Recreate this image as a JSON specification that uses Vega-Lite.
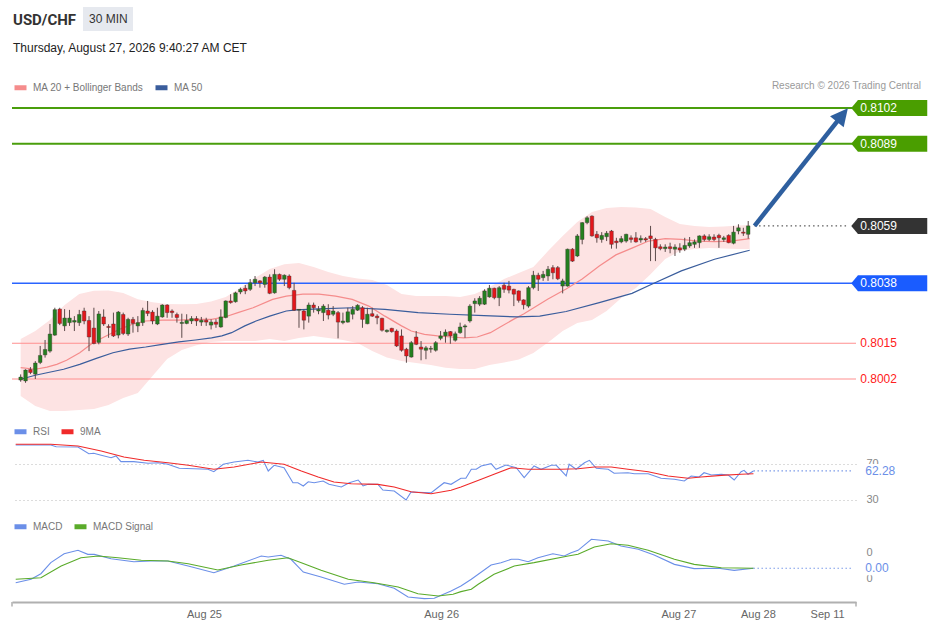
{
"$schema":"https://vega.github.io/schema/vega-lite/v6.json",
"background":"#ffffff",
"padding":{"left":11,"top":7,"right":5,"bottom":5},
"title":{"text":"USD/CHF","subtitle":"Thursday, August 27, 2026 9:40:27 AM CET","anchor":"start","frame":"group","dx":1,"offset":-47,"font":"Roboto","fontSize":15,"fontWeight":"bold","color":"#333333","subtitleFont":"Liberation Sans","subtitleFontSize":12,"subtitleColor":"#222222","subtitlePadding":15},
"config":{"view":{"stroke":null},"font":"Liberation Sans","legend":{"orient":"none","direction":"horizontal","title":null,"labelFontSize":10,"labelColor":"#777777","symbolType":"stroke","symbolStrokeWidth":5,"symbolSize":144,"labelOffset":4,"columnPadding":1,"padding":0}},
"bounds":"flush",
"spacing":29,
"resolve":{"scale":{"color":"independent"},"legend":{"color":"independent"}},
"datasets":{
"candles":[
{"i":0,"o":0.80016,"h":0.80037,"l":0.8001,"c":0.80027},
{"i":1,"o":0.80013,"h":0.80056,"l":0.80006,"c":0.80053},
{"i":2,"o":0.80055,"h":0.80064,"l":0.80038,"c":0.80044},
{"i":3,"o":0.80038,"h":0.80086,"l":0.8002,"c":0.80079},
{"i":4,"o":0.80081,"h":0.80142,"l":0.80075,"c":0.80107},
{"i":5,"o":0.80109,"h":0.80164,"l":0.80099,"c":0.80129},
{"i":6,"o":0.80123,"h":0.80223,"l":0.80117,"c":0.80186},
{"i":7,"o":0.80182,"h":0.80283,"l":0.80179,"c":0.80276},
{"i":8,"o":0.80278,"h":0.80283,"l":0.80219,"c":0.80225},
{"i":9,"o":0.80216,"h":0.80278,"l":0.80197,"c":0.80245},
{"i":10,"o":0.80228,"h":0.80275,"l":0.80216,"c":0.80245},
{"i":11,"o":0.8023,"h":0.80252,"l":0.80197,"c":0.80236},
{"i":12,"o":0.80228,"h":0.80275,"l":0.80216,"c":0.80258},
{"i":13,"o":0.80271,"h":0.80283,"l":0.80222,"c":0.80234},
{"i":14,"o":0.80236,"h":0.80252,"l":0.80123,"c":0.80175},
{"i":15,"o":0.80208,"h":0.80283,"l":0.80148,"c":0.80151},
{"i":16,"o":0.80155,"h":0.80271,"l":0.80148,"c":0.8026},
{"i":17,"o":0.80249,"h":0.80277,"l":0.80216,"c":0.80223},
{"i":18,"o":0.80214,"h":0.80222,"l":0.80172,"c":0.8021},
{"i":19,"o":0.80223,"h":0.80265,"l":0.80175,"c":0.80179},
{"i":20,"o":0.80182,"h":0.80271,"l":0.8017,"c":0.80267},
{"i":21,"o":0.80258,"h":0.80265,"l":0.80182,"c":0.80188},
{"i":22,"o":0.80186,"h":0.80246,"l":0.80179,"c":0.8024},
{"i":23,"o":0.8024,"h":0.80249,"l":0.80191,"c":0.80225},
{"i":24,"o":0.80216,"h":0.80252,"l":0.80193,"c":0.80228},
{"i":25,"o":0.80228,"h":0.80283,"l":0.80216,"c":0.80273},
{"i":26,"o":0.80271,"h":0.80308,"l":0.80252,"c":0.80262},
{"i":27,"o":0.80267,"h":0.80274,"l":0.80222,"c":0.80234},
{"i":28,"o":0.80223,"h":0.80283,"l":0.80219,"c":0.80252},
{"i":29,"o":0.80249,"h":0.80296,"l":0.80246,"c":0.80293},
{"i":30,"o":0.80293,"h":0.80296,"l":0.80246,"c":0.80265},
{"i":31,"o":0.80271,"h":0.80277,"l":0.80246,"c":0.80265},
{"i":32,"o":0.80258,"h":0.80265,"l":0.80228,"c":0.80247},
{"i":33,"o":0.80225,"h":0.80261,"l":0.80172,"c":0.80229},
{"i":34,"o":0.80225,"h":0.80259,"l":0.80222,"c":0.80236},
{"i":35,"o":0.80234,"h":0.80252,"l":0.80223,"c":0.80243},
{"i":36,"o":0.80243,"h":0.80252,"l":0.80216,"c":0.80234},
{"i":37,"o":0.8023,"h":0.80249,"l":0.80216,"c":0.80237},
{"i":38,"o":0.80237,"h":0.80246,"l":0.80216,"c":0.8023},
{"i":39,"o":0.80219,"h":0.8024,"l":0.80203,"c":0.8023},
{"i":40,"o":0.8023,"h":0.80241,"l":0.80209,"c":0.80222},
{"i":41,"o":0.80212,"h":0.80277,"l":0.80209,"c":0.80249},
{"i":42,"o":0.80247,"h":0.8031,"l":0.80244,"c":0.80308},
{"i":43,"o":0.80308,"h":0.80333,"l":0.80298,"c":0.80302},
{"i":44,"o":0.80305,"h":0.80342,"l":0.80302,"c":0.80338},
{"i":45,"o":0.80341,"h":0.80357,"l":0.80333,"c":0.80351},
{"i":46,"o":0.80355,"h":0.80367,"l":0.80333,"c":0.80345},
{"i":47,"o":0.80351,"h":0.80389,"l":0.80345,"c":0.80375},
{"i":48,"o":0.80375,"h":0.804,"l":0.80363,"c":0.80388},
{"i":49,"o":0.80382,"h":0.80385,"l":0.80357,"c":0.80375},
{"i":50,"o":0.80369,"h":0.804,"l":0.80357,"c":0.80396},
{"i":51,"o":0.80396,"h":0.80406,"l":0.80333,"c":0.80336},
{"i":52,"o":0.80338,"h":0.80425,"l":0.80335,"c":0.80406},
{"i":53,"o":0.80406,"h":0.80409,"l":0.80382,"c":0.80388},
{"i":54,"o":0.80388,"h":0.80406,"l":0.80363,"c":0.80403},
{"i":55,"o":0.804,"h":0.80406,"l":0.80351,"c":0.80357},
{"i":56,"o":0.80347,"h":0.80375,"l":0.80271,"c":0.80274},
{"i":57,"o":0.80274,"h":0.80278,"l":0.80209,"c":0.80277},
{"i":58,"o":0.80271,"h":0.80277,"l":0.80203,"c":0.80237},
{"i":59,"o":0.80252,"h":0.80302,"l":0.80228,"c":0.80293},
{"i":60,"o":0.80293,"h":0.80302,"l":0.80265,"c":0.80283},
{"i":61,"o":0.80271,"h":0.80289,"l":0.80259,"c":0.80277},
{"i":62,"o":0.80265,"h":0.80296,"l":0.80234,"c":0.80289},
{"i":63,"o":0.80274,"h":0.80296,"l":0.8024,"c":0.80256},
{"i":64,"o":0.80259,"h":0.80289,"l":0.80252,"c":0.80271},
{"i":65,"o":0.80265,"h":0.80271,"l":0.8017,"c":0.8023},
{"i":66,"o":0.80228,"h":0.80265,"l":0.80222,"c":0.80234},
{"i":67,"o":0.8023,"h":0.80283,"l":0.80228,"c":0.80268},
{"i":68,"o":0.80259,"h":0.80289,"l":0.8024,"c":0.80277},
{"i":69,"o":0.80274,"h":0.80296,"l":0.80271,"c":0.80292},
{"i":70,"o":0.80283,"h":0.80289,"l":0.80209,"c":0.8024},
{"i":71,"o":0.80224,"h":0.80283,"l":0.80222,"c":0.80259},
{"i":72,"o":0.80261,"h":0.80283,"l":0.80249,"c":0.80252},
{"i":73,"o":0.80252,"h":0.80259,"l":0.80222,"c":0.80246},
{"i":74,"o":0.80244,"h":0.80246,"l":0.80195,"c":0.802},
{"i":75,"o":0.80195,"h":0.80203,"l":0.80191,"c":0.802},
{"i":76,"o":0.80207,"h":0.80209,"l":0.80191,"c":0.80195},
{"i":77,"o":0.80197,"h":0.80203,"l":0.80138,"c":0.80142},
{"i":78,"o":0.80179,"h":0.80203,"l":0.80121,"c":0.80126},
{"i":79,"o":0.8013,"h":0.80135,"l":0.8008,"c":0.80105},
{"i":80,"o":0.80101,"h":0.8016,"l":0.80099,"c":0.80154},
{"i":81,"o":0.80175,"h":0.80197,"l":0.80145,"c":0.80148},
{"i":82,"o":0.80138,"h":0.8016,"l":0.80089,"c":0.8013},
{"i":83,"o":0.80126,"h":0.80142,"l":0.80093,"c":0.80135},
{"i":84,"o":0.8013,"h":0.80142,"l":0.80117,"c":0.80133},
{"i":85,"o":0.80126,"h":0.8016,"l":0.80121,"c":0.80154},
{"i":86,"o":0.8017,"h":0.80197,"l":0.80163,"c":0.80179},
{"i":87,"o":0.80179,"h":0.80203,"l":0.80154,"c":0.80193},
{"i":88,"o":0.80195,"h":0.80197,"l":0.8015,"c":0.80179},
{"i":89,"o":0.80163,"h":0.80195,"l":0.80158,"c":0.80187},
{"i":90,"o":0.80191,"h":0.80228,"l":0.80187,"c":0.80212},
{"i":91,"o":0.80212,"h":0.80222,"l":0.80172,"c":0.80216},
{"i":92,"o":0.80234,"h":0.80296,"l":0.80228,"c":0.80289},
{"i":93,"o":0.80298,"h":0.80318,"l":0.80265,"c":0.80308},
{"i":94,"o":0.80296,"h":0.80326,"l":0.80289,"c":0.80318},
{"i":95,"o":0.80296,"h":0.80351,"l":0.80293,"c":0.80345},
{"i":96,"o":0.80323,"h":0.80367,"l":0.8032,"c":0.80355},
{"i":97,"o":0.80355,"h":0.80357,"l":0.80314,"c":0.8032},
{"i":98,"o":0.8032,"h":0.80363,"l":0.80289,"c":0.80357},
{"i":99,"o":0.80366,"h":0.80375,"l":0.80338,"c":0.80351},
{"i":100,"o":0.80363,"h":0.80382,"l":0.80336,"c":0.80348},
{"i":101,"o":0.80351,"h":0.80353,"l":0.80289,"c":0.80333},
{"i":102,"o":0.80345,"h":0.80347,"l":0.80302,"c":0.8031},
{"i":103,"o":0.80312,"h":0.80314,"l":0.80277,"c":0.80294},
{"i":104,"o":0.80289,"h":0.80363,"l":0.80283,"c":0.80357},
{"i":105,"o":0.80357,"h":0.80419,"l":0.80351,"c":0.80403},
{"i":106,"o":0.80403,"h":0.80412,"l":0.80345,"c":0.80388},
{"i":107,"o":0.80394,"h":0.80419,"l":0.80382,"c":0.80406},
{"i":108,"o":0.804,"h":0.80437,"l":0.80382,"c":0.80425},
{"i":109,"o":0.80431,"h":0.8044,"l":0.80388,"c":0.80412},
{"i":110,"o":0.80431,"h":0.80437,"l":0.80385,"c":0.8039},
{"i":111,"o":0.80363,"h":0.8039,"l":0.80336,"c":0.80382},
{"i":112,"o":0.80363,"h":0.80501,"l":0.80361,"c":0.80499},
{"i":113,"o":0.80499,"h":0.80503,"l":0.80452,"c":0.80455},
{"i":114,"o":0.80474,"h":0.80555,"l":0.8047,"c":0.80548},
{"i":115,"o":0.80535,"h":0.80599,"l":0.80517,"c":0.80597},
{"i":116,"o":0.80597,"h":0.80621,"l":0.80591,"c":0.80615},
{"i":117,"o":0.80621,"h":0.80624,"l":0.80545,"c":0.80548},
{"i":118,"o":0.80554,"h":0.80566,"l":0.80523,"c":0.80541},
{"i":119,"o":0.80535,"h":0.80562,"l":0.80523,"c":0.8055},
{"i":120,"o":0.80545,"h":0.80566,"l":0.80529,"c":0.80558},
{"i":121,"o":0.80566,"h":0.8057,"l":0.80501,"c":0.80517},
{"i":122,"o":0.80529,"h":0.80541,"l":0.80501,"c":0.80523},
{"i":123,"o":0.80526,"h":0.80548,"l":0.80521,"c":0.80538},
{"i":124,"o":0.80529,"h":0.80556,"l":0.80523,"c":0.80554},
{"i":125,"o":0.80541,"h":0.8055,"l":0.80523,"c":0.80535},
{"i":126,"o":0.80541,"h":0.80562,"l":0.80523,"c":0.80526},
{"i":127,"o":0.80533,"h":0.8055,"l":0.80523,"c":0.80539},
{"i":128,"o":0.80538,"h":0.80544,"l":0.80526,"c":0.80533},
{"i":129,"o":0.80548,"h":0.80585,"l":0.80455,"c":0.80538},
{"i":130,"o":0.80535,"h":0.80541,"l":0.80455,"c":0.80504},
{"i":131,"o":0.80508,"h":0.80517,"l":0.80495,"c":0.80501},
{"i":132,"o":0.80501,"h":0.80517,"l":0.80489,"c":0.80507},
{"i":133,"o":0.80508,"h":0.80523,"l":0.80484,"c":0.80501},
{"i":134,"o":0.80499,"h":0.80517,"l":0.80474,"c":0.80507},
{"i":135,"o":0.80504,"h":0.80521,"l":0.80486,"c":0.80496},
{"i":136,"o":0.80499,"h":0.80541,"l":0.80492,"c":0.80513},
{"i":137,"o":0.80511,"h":0.80544,"l":0.80504,"c":0.80523},
{"i":138,"o":0.80517,"h":0.80535,"l":0.80504,"c":0.80526},
{"i":139,"o":0.80523,"h":0.8055,"l":0.80504,"c":0.80548},
{"i":140,"o":0.80548,"h":0.80554,"l":0.80528,"c":0.80535},
{"i":141,"o":0.80535,"h":0.80554,"l":0.80529,"c":0.80545},
{"i":142,"o":0.80544,"h":0.80554,"l":0.80529,"c":0.80535},
{"i":143,"o":0.8055,"h":0.80556,"l":0.80504,"c":0.80541},
{"i":144,"o":0.80535,"h":0.80548,"l":0.80526,"c":0.80541},
{"i":145,"o":0.8055,"h":0.80554,"l":0.80521,"c":0.80523},
{"i":146,"o":0.80521,"h":0.80585,"l":0.80517,"c":0.80562},
{"i":147,"o":0.80566,"h":0.80591,"l":0.80554,"c":0.80578},
{"i":148,"o":0.80562,"h":0.80578,"l":0.80548,"c":0.80558},
{"i":149,"o":0.80554,"h":0.80603,"l":0.80538,"c":0.80585}
],
"band":[
{"i":0,"up":0.80168,"lo":0.79957},{"i":3,"up":0.80197,"lo":0.7992},{"i":6,"up":0.80238,"lo":0.79902},{"i":9,"up":0.80293,"lo":0.79902},
{"i":12,"up":0.80334,"lo":0.79906},{"i":15,"up":0.80346,"lo":0.79909},{"i":18,"up":0.80347,"lo":0.79924},{"i":21,"up":0.80337,"lo":0.7995},
{"i":24,"up":0.80314,"lo":0.79968},{"i":27,"up":0.80303,"lo":0.80031},{"i":30,"up":0.80297,"lo":0.80094},{"i":33,"up":0.80296,"lo":0.80127},
{"i":36,"up":0.80297,"lo":0.80145},{"i":39,"up":0.80306,"lo":0.80157},{"i":42,"up":0.80323,"lo":0.8016},{"i":45,"up":0.80356,"lo":0.8016},
{"i":48,"up":0.80393,"lo":0.8016},{"i":51,"up":0.80426,"lo":0.80168},{"i":54,"up":0.80443,"lo":0.8016},{"i":57,"up":0.80448,"lo":0.80171},
{"i":60,"up":0.80433,"lo":0.80179},{"i":63,"up":0.80415,"lo":0.80171},{"i":66,"up":0.804,"lo":0.80164},{"i":69,"up":0.80391,"lo":0.80153},
{"i":72,"up":0.80385,"lo":0.80123},{"i":75,"up":0.80367,"lo":0.80099},{"i":78,"up":0.80334,"lo":0.80086},{"i":81,"up":0.80326,"lo":0.80079},
{"i":84,"up":0.80326,"lo":0.80072},{"i":87,"up":0.80326,"lo":0.80062},{"i":90,"up":0.80323,"lo":0.80057},{"i":93,"up":0.80334,"lo":0.80057},
{"i":96,"up":0.80359,"lo":0.80072},{"i":99,"up":0.80389,"lo":0.80081},{"i":102,"up":0.80411,"lo":0.80092},{"i":105,"up":0.80433,"lo":0.80116},
{"i":108,"up":0.80492,"lo":0.80155},{"i":111,"up":0.80548,"lo":0.80197},{"i":114,"up":0.80599,"lo":0.80227},{"i":117,"up":0.80636,"lo":0.80238},
{"i":120,"up":0.80651,"lo":0.80271},{"i":123,"up":0.80655,"lo":0.80319},{"i":126,"up":0.80653,"lo":0.80356},{"i":129,"up":0.80647,"lo":0.80407},
{"i":132,"up":0.80618,"lo":0.80463},{"i":135,"up":0.80592,"lo":0.80492},{"i":138,"up":0.80585,"lo":0.805},{"i":141,"up":0.80581,"lo":0.80503},
{"i":144,"up":0.80583,"lo":0.80502},{"i":147,"up":0.80586,"lo":0.805},{"i":149.3,"up":0.80588,"lo":0.805}
],
"ma":[
{"s":"MA 20 + Bollinger Bands","i":0,"v":0.80062},{"s":"MA 20 + Bollinger Bands","i":3,"v":0.80056},{"s":"MA 20 + Bollinger Bands","i":5.4,"v":0.80064},{"s":"MA 20 + Bollinger Bands","i":7.4,"v":0.80074},
{"s":"MA 20 + Bollinger Bands","i":9.4,"v":0.80089},{"s":"MA 20 + Bollinger Bands","i":12.1,"v":0.80117},{"s":"MA 20 + Bollinger Bands","i":14.8,"v":0.80154},{"s":"MA 20 + Bollinger Bands","i":17.5,"v":0.80179},
{"s":"MA 20 + Bollinger Bands","i":20.2,"v":0.80203},{"s":"MA 20 + Bollinger Bands","i":22.9,"v":0.80222},{"s":"MA 20 + Bollinger Bands","i":25.6,"v":0.80234},{"s":"MA 20 + Bollinger Bands","i":29,"v":0.80237},
{"s":"MA 20 + Bollinger Bands","i":32.4,"v":0.80237},{"s":"MA 20 + Bollinger Bands","i":35.8,"v":0.8024},{"s":"MA 20 + Bollinger Bands","i":39.1,"v":0.8024},{"s":"MA 20 + Bollinger Bands","i":41.8,"v":0.80249},
{"s":"MA 20 + Bollinger Bands","i":44.5,"v":0.80265},{"s":"MA 20 + Bollinger Bands","i":47.6,"v":0.80283},{"s":"MA 20 + Bollinger Bands","i":51.6,"v":0.80314},{"s":"MA 20 + Bollinger Bands","i":54.4,"v":0.80326},
{"s":"MA 20 + Bollinger Bands","i":57.8,"v":0.80333},{"s":"MA 20 + Bollinger Bands","i":61.1,"v":0.80333},{"s":"MA 20 + Bollinger Bands","i":64.5,"v":0.80326},{"s":"MA 20 + Bollinger Bands","i":67.9,"v":0.80314},
{"s":"MA 20 + Bollinger Bands","i":71.3,"v":0.80289},{"s":"MA 20 + Bollinger Bands","i":74.6,"v":0.80252},{"s":"MA 20 + Bollinger Bands","i":78,"v":0.80216},{"s":"MA 20 + Bollinger Bands","i":80,"v":0.80197},
{"s":"MA 20 + Bollinger Bands","i":82.7,"v":0.80185},{"s":"MA 20 + Bollinger Bands","i":85.4,"v":0.80179},{"s":"MA 20 + Bollinger Bands","i":88.1,"v":0.80175},{"s":"MA 20 + Bollinger Bands","i":90.8,"v":0.80172},
{"s":"MA 20 + Bollinger Bands","i":93.5,"v":0.80175},{"s":"MA 20 + Bollinger Bands","i":96.2,"v":0.80191},{"s":"MA 20 + Bollinger Bands","i":98.2,"v":0.80212},{"s":"MA 20 + Bollinger Bands","i":101,"v":0.80241},
{"s":"MA 20 + Bollinger Bands","i":103,"v":0.8026},{"s":"MA 20 + Bollinger Bands","i":105,"v":0.80282},{"s":"MA 20 + Bollinger Bands","i":108,"v":0.80315},{"s":"MA 20 + Bollinger Bands","i":111.7,"v":0.80352},
{"s":"MA 20 + Bollinger Bands","i":115,"v":0.80389},{"s":"MA 20 + Bollinger Bands","i":118.5,"v":0.80437},{"s":"MA 20 + Bollinger Bands","i":121.9,"v":0.80478},{"s":"MA 20 + Bollinger Bands","i":125.2,"v":0.80503},
{"s":"MA 20 + Bollinger Bands","i":128.6,"v":0.80529},{"s":"MA 20 + Bollinger Bands","i":132,"v":0.80538},{"s":"MA 20 + Bollinger Bands","i":135.3,"v":0.80535},{"s":"MA 20 + Bollinger Bands","i":138.7,"v":0.80529},
{"s":"MA 20 + Bollinger Bands","i":142.1,"v":0.80527},{"s":"MA 20 + Bollinger Bands","i":145.5,"v":0.80529},{"s":"MA 20 + Bollinger Bands","i":149.3,"v":0.80538},
{"s":"MA 50","i":0,"v":0.80019},{"s":"MA 50","i":3,"v":0.80034},{"s":"MA 50","i":5.4,"v":0.80043},{"s":"MA 50","i":8.8,"v":0.80056},
{"s":"MA 50","i":12.1,"v":0.80074},{"s":"MA 50","i":15.5,"v":0.80096},{"s":"MA 50","i":18.9,"v":0.80117},{"s":"MA 50","i":22.3,"v":0.8013},
{"s":"MA 50","i":25.6,"v":0.80138},{"s":"MA 50","i":29,"v":0.80148},{"s":"MA 50","i":32.4,"v":0.80157},{"s":"MA 50","i":35.8,"v":0.80164},
{"s":"MA 50","i":39.1,"v":0.80172},{"s":"MA 50","i":41.2,"v":0.80179},{"s":"MA 50","i":43.2,"v":0.80191},{"s":"MA 50","i":45.9,"v":0.80216},
{"s":"MA 50","i":48.2,"v":0.80234},{"s":"MA 50","i":51,"v":0.80252},{"s":"MA 50","i":54.4,"v":0.80271},{"s":"MA 50","i":56.4,"v":0.80275},
{"s":"MA 50","i":61.1,"v":0.80279},{"s":"MA 50","i":67.9,"v":0.80283},{"s":"MA 50","i":74.6,"v":0.80277},{"s":"MA 50","i":81.4,"v":0.80265},
{"s":"MA 50","i":87.9,"v":0.80259},{"s":"MA 50","i":94.9,"v":0.80254},{"s":"MA 50","i":101.7,"v":0.80249},{"s":"MA 50","i":106.3,"v":0.80252},
{"s":"MA 50","i":111.7,"v":0.80269},{"s":"MA 50","i":118.5,"v":0.80302},{"s":"MA 50","i":125.2,"v":0.80336},{"s":"MA 50","i":128.9,"v":0.80367},
{"s":"MA 50","i":135.3,"v":0.80419},{"s":"MA 50","i":142.1,"v":0.80462},{"s":"MA 50","i":149.3,"v":0.80495}
],
"levels":[
{"price":0.8102,"label":"0.8102","kind":"target"},
{"price":0.80888,"label":"0.8089","kind":"target"},
{"price":0.80585,"label":"0.8059","kind":"last"},
{"price":0.80373,"label":"0.8038","kind":"pivot"},
{"price":0.80152,"label":"0.8015","kind":"support"},
{"price":0.8002,"label":"0.8002","kind":"support"}
],
"arrow":[{"i0":150.3,"p0":0.80585,"i1":168,"p1":0.80988}],
"rsi":[
{"s":"RSI","i":0,"v":91.1},{"s":"RSI","i":7.1,"v":91.1},{"s":"RSI","i":8.2,"v":89.2},{"s":"RSI","i":12.6,"v":88.9},{"s":"RSI","i":14.8,"v":81.4},{"s":"RSI","i":15.8,"v":81.9},
{"s":"RSI","i":17.3,"v":79.7},{"s":"RSI","i":19.3,"v":77},{"s":"RSI","i":20.3,"v":78.9},{"s":"RSI","i":21.3,"v":72.6},{"s":"RSI","i":23.9,"v":72.6},{"s":"RSI","i":26.8,"v":70.8},
{"s":"RSI","i":28.8,"v":71.4},{"s":"RSI","i":30.8,"v":69.7},{"s":"RSI","i":33.1,"v":65.2},{"s":"RSI","i":36.1,"v":64.8},{"s":"RSI","i":38.9,"v":64.1},{"s":"RSI","i":40.1,"v":61.4},
{"s":"RSI","i":42,"v":69.7},{"s":"RSI","i":44.2,"v":72.2},{"s":"RSI","i":47,"v":74.1},{"s":"RSI","i":49,"v":72.2},{"s":"RSI","i":50.1,"v":74.1},{"s":"RSI","i":51.1,"v":62.2},
{"s":"RSI","i":52.3,"v":68.6},{"s":"RSI","i":54.3,"v":65.9},{"s":"RSI","i":56.1,"v":49.2},{"s":"RSI","i":57.1,"v":49.2},{"s":"RSI","i":58.2,"v":45.6},{"s":"RSI","i":59.2,"v":50.3},
{"s":"RSI","i":60.4,"v":49.2},{"s":"RSI","i":62.2,"v":51.1},{"s":"RSI","i":63.4,"v":47.4},{"s":"RSI","i":65.9,"v":44.4},{"s":"RSI","i":67.5,"v":49.2},{"s":"RSI","i":69.3,"v":52.2},
{"s":"RSI","i":70.3,"v":45.6},{"s":"RSI","i":71.3,"v":47.4},{"s":"RSI","i":73.3,"v":47.4},{"s":"RSI","i":74.3,"v":41.1},{"s":"RSI","i":76.6,"v":40},{"s":"RSI","i":79,"v":30},
{"s":"RSI","i":80,"v":38.9},{"s":"RSI","i":84.1,"v":38.1},{"s":"RSI","i":86.7,"v":49.2},{"s":"RSI","i":88.1,"v":47.4},{"s":"RSI","i":90.1,"v":54.1},{"s":"RSI","i":91.1,"v":54.1},
{"s":"RSI","i":92.2,"v":64.1},{"s":"RSI","i":93.2,"v":64.1},{"s":"RSI","i":94.2,"v":67.8},{"s":"RSI","i":96.2,"v":70.3},{"s":"RSI","i":97.2,"v":64.1},{"s":"RSI","i":99.2,"v":68.9},
{"s":"RSI","i":101.3,"v":65.9},{"s":"RSI","i":102.9,"v":54.8},{"s":"RSI","i":104.9,"v":67.8},{"s":"RSI","i":106.3,"v":64.1},{"s":"RSI","i":108.4,"v":68.6},{"s":"RSI","i":109.4,"v":68.6},
{"s":"RSI","i":111.4,"v":56.7},{"s":"RSI","i":112,"v":69.7},{"s":"RSI","i":113.4,"v":64.1},{"s":"RSI","i":115.1,"v":71.4},{"s":"RSI","i":116.1,"v":74.1},{"s":"RSI","i":117.5,"v":65.2},
{"s":"RSI","i":119.9,"v":64.1},{"s":"RSI","i":121.1,"v":59.7},{"s":"RSI","i":123.9,"v":60.3},{"s":"RSI","i":125.2,"v":59.2},{"s":"RSI","i":128,"v":59.2},{"s":"RSI","i":130.6,"v":54.1},
{"s":"RSI","i":133.3,"v":53},{"s":"RSI","i":135.3,"v":51.1},{"s":"RSI","i":136.7,"v":56.7},{"s":"RSI","i":138.3,"v":55.6},{"s":"RSI","i":139.3,"v":60.3},{"s":"RSI","i":140.8,"v":57.8},
{"s":"RSI","i":142.8,"v":58.6},{"s":"RSI","i":144.2,"v":57.8},{"s":"RSI","i":145.4,"v":52.2},{"s":"RSI","i":146.8,"v":61.4},{"s":"RSI","i":147.4,"v":63},{"s":"RSI","i":148.2,"v":58.6},
{"s":"RSI","i":149.3,"v":62.28},
{"s":"9MA","i":0,"v":91.9},{"s":"9MA","i":7.1,"v":91.9},{"s":"9MA","i":12.6,"v":90},{"s":"9MA","i":17.3,"v":84.4},{"s":"9MA","i":21.9,"v":77.8},{"s":"9MA","i":26,"v":74.1},
{"s":"9MA","i":30.8,"v":71.4},{"s":"9MA","i":34.9,"v":68.6},{"s":"9MA","i":40.1,"v":64.1},{"s":"9MA","i":44.2,"v":66.7},{"s":"9MA","i":49.7,"v":72.2},{"s":"9MA","i":54.3,"v":69.7},
{"s":"9MA","i":57.8,"v":62.2},{"s":"9MA","i":61.2,"v":55.6},{"s":"9MA","i":64.4,"v":50},{"s":"9MA","i":67.9,"v":48.1},{"s":"9MA","i":73.3,"v":47.4},{"s":"9MA","i":76.6,"v":44.4},
{"s":"9MA","i":80,"v":39.2},{"s":"9MA","i":84.1,"v":37},{"s":"9MA","i":88.1,"v":40.8},{"s":"9MA","i":90.1,"v":44.4},{"s":"9MA","i":94.2,"v":53},{"s":"9MA","i":96.8,"v":58.6},
{"s":"9MA","i":100.3,"v":65.9},{"s":"9MA","i":103.7,"v":64.1},{"s":"9MA","i":110.4,"v":64.1},{"s":"9MA","i":113.8,"v":64.8},{"s":"9MA","i":117.1,"v":66.7},{"s":"9MA","i":120.5,"v":66.7},
{"s":"9MA","i":123.9,"v":64.1},{"s":"9MA","i":128,"v":61.4},{"s":"9MA","i":132,"v":56.7},{"s":"9MA","i":136.1,"v":54.1},{"s":"9MA","i":138.7,"v":55.6},{"s":"9MA","i":142.8,"v":57.4},
{"s":"9MA","i":146.8,"v":58.6},{"s":"9MA","i":149.3,"v":59.2}
],
"macd":[
{"s":"MACD","i":0,"v":-1.36},{"s":"MACD","i":3.1,"v":-1.1},{"s":"MACD","i":5.1,"v":-0.67},{"s":"MACD","i":7.1,"v":0.18},{"s":"MACD","i":9.8,"v":0.87},{"s":"MACD","i":12.6,"v":1.13},
{"s":"MACD","i":14.6,"v":0.82},{"s":"MACD","i":15.9,"v":0.82},{"s":"MACD","i":19.3,"v":0.48},{"s":"MACD","i":23.9,"v":0.25},{"s":"MACD","i":27.4,"v":0.31},{"s":"MACD","i":30.8,"v":0.31},
{"s":"MACD","i":34.9,"v":-0.08},{"s":"MACD","i":40.1,"v":-0.59},{"s":"MACD","i":44.2,"v":-0.08},{"s":"MACD","i":49.7,"v":0.69},{"s":"MACD","i":51.1,"v":0.62},{"s":"MACD","i":53.7,"v":0.75},
{"s":"MACD","i":55.7,"v":0.44},{"s":"MACD","i":58.2,"v":-0.54},{"s":"MACD","i":61.8,"v":-0.92},{"s":"MACD","i":66.5,"v":-1.48},{"s":"MACD","i":69.3,"v":-1.31},{"s":"MACD","i":73.3,"v":-1.44},
{"s":"MACD","i":76.6,"v":-1.79},{"s":"MACD","i":79.4,"v":-2.46},{"s":"MACD","i":82.7,"v":-2.59},{"s":"MACD","i":84.7,"v":-2.56},{"s":"MACD","i":88.1,"v":-2},{"s":"MACD","i":90.1,"v":-1.62},
{"s":"MACD","i":92.2,"v":-1.1},{"s":"MACD","i":96.2,"v":0},{"s":"MACD","i":98.2,"v":0.18},{"s":"MACD","i":100.3,"v":0.44},{"s":"MACD","i":101.7,"v":0.44},{"s":"MACD","i":103.7,"v":0.25},
{"s":"MACD","i":105.7,"v":0.56},{"s":"MACD","i":108.7,"v":0.87},{"s":"MACD","i":111,"v":0.69},{"s":"MACD","i":112.4,"v":0.95},{"s":"MACD","i":113.8,"v":1.13},{"s":"MACD","i":116.5,"v":1.98},
{"s":"MACD","i":119.9,"v":1.85},{"s":"MACD","i":122.5,"v":1.46},{"s":"MACD","i":126,"v":1.21},{"s":"MACD","i":129.2,"v":0.77},{"s":"MACD","i":133.3,"v":0.05},{"s":"MACD","i":137.3,"v":-0.28},
{"s":"MACD","i":142.2,"v":-0.25},{"s":"MACD","i":145.4,"v":-0.41},{"s":"MACD","i":149.3,"v":-0.25},
{"s":"MACD Signal","i":0,"v":-1.1},{"s":"MACD Signal","i":5.1,"v":-0.98},{"s":"MACD Signal","i":9.2,"v":-0.08},{"s":"MACD Signal","i":13.2,"v":0.56},{"s":"MACD Signal","i":16.7,"v":0.69},
{"s":"MACD Signal","i":20.7,"v":0.56},{"s":"MACD Signal","i":25.4,"v":0.36},{"s":"MACD Signal","i":30.8,"v":0.31},{"s":"MACD Signal","i":34.9,"v":0.1},{"s":"MACD Signal","i":40.9,"v":-0.38},
{"s":"MACD Signal","i":45.6,"v":0},{"s":"MACD Signal","i":51.1,"v":0.36},{"s":"MACD Signal","i":55.1,"v":0.56},{"s":"MACD Signal","i":57.8,"v":0.18},{"s":"MACD Signal","i":61.8,"v":-0.41},
{"s":"MACD Signal","i":67.3,"v":-1.1},{"s":"MACD Signal","i":72.5,"v":-1.36},{"s":"MACD Signal","i":77.4,"v":-1.69},{"s":"MACD Signal","i":81.4,"v":-2.21},{"s":"MACD Signal","i":85.5,"v":-2.38},
{"s":"MACD Signal","i":88.5,"v":-2.25},{"s":"MACD Signal","i":90.1,"v":-2.05},{"s":"MACD Signal","i":92.2,"v":-1.87},{"s":"MACD Signal","i":93.6,"v":-1.48},{"s":"MACD Signal","i":96.8,"v":-0.72},
{"s":"MACD Signal","i":100.9,"v":-0.08},{"s":"MACD Signal","i":104.9,"v":0.18},{"s":"MACD Signal","i":111.8,"v":0.69},{"s":"MACD Signal","i":113.8,"v":0.82},{"s":"MACD Signal","i":117.1,"v":1.38},
{"s":"MACD Signal","i":120.5,"v":1.64},{"s":"MACD Signal","i":123.9,"v":1.52},{"s":"MACD Signal","i":128,"v":1.13},{"s":"MACD Signal","i":133.3,"v":0.44},{"s":"MACD Signal","i":137.3,"v":0.05},
{"s":"MACD Signal","i":142.8,"v":-0.21},{"s":"MACD Signal","i":149.3,"v":-0.25}
],
"last":[{"panel":"rsi","v":62.28,"label":"62.28"},{"panel":"macd","v":-0.25,"label":"0.00"}],
"axisends":[{"e":-0.75},{"e":170.05}]
},
"vconcat":[
{
"width":844,"height":320,
"title":{"text":"Research © 2026 Trading Central","anchor":"end","frame":"group","dx":65,"offset":-12,"fontSize":10,"fontWeight":"normal","color":"#9a9a9a"},
"layer":[
{"data":{"name":"band"},"mark":{"type":"area","color":"#fde3e3","opacity":1},
 "encoding":{"x":{"field":"i","type":"quantitative","scale":{"domain":[-0.75,170.05],"nice":false,"zero":false},"axis":null},
 "y":{"field":"up","type":"quantitative","scale":{"domain":[0.798835,0.810643],"nice":false,"zero":false},"axis":null},"y2":{"field":"lo"}}},
{"data":{"name":"levels"},"transform":[{"filter":"datum.kind == 'target'"}],"mark":{"type":"rule","color":"#4a9e0c","strokeWidth":2},
 "encoding":{"y":{"field":"price","type":"quantitative"}}},
{"data":{"name":"levels"},"transform":[{"filter":"datum.kind == 'pivot'"}],"mark":{"type":"rule","color":"#2a64ff","strokeWidth":1.5},
 "encoding":{"y":{"field":"price","type":"quantitative"}}},
{"data":{"name":"levels"},"transform":[{"filter":"datum.kind == 'support'"}],"mark":{"type":"rule","color":"#ff8f8f","strokeWidth":1.2},
 "encoding":{"y":{"field":"price","type":"quantitative"}}},
{"data":{"name":"levels"},"transform":[{"filter":"datum.kind == 'last'"}],"mark":{"type":"rule","color":"#333333","strokeWidth":1,"strokeDash":[1.5,3]},
 "encoding":{"x":{"datum":150.3},"x2":{"datum":169.5},"y":{"field":"price","type":"quantitative"}}},
{"data":{"name":"ma"},"mark":{"type":"line","strokeWidth":1.2},
 "encoding":{"x":{"field":"i","type":"quantitative"},"y":{"field":"v","type":"quantitative"},
 "color":{"field":"s","type":"nominal","scale":{"domain":["MA 20 + Bollinger Bands","MA 50"],"range":["#f58c8c","#3a5d9c"]},"legend":{"legendX":0,"legendY":-17}}}},
{"data":{"name":"candles"},"mark":{"type":"rule","color":"#5c4a4a","strokeWidth":1},
 "encoding":{"x":{"field":"i","type":"quantitative"},"y":{"field":"l","type":"quantitative"},"y2":{"field":"h"}}},
{"data":{"name":"candles"},"mark":{"type":"bar","size":3.6,"stroke":"#3d3030","strokeWidth":0.4},
 "encoding":{"x":{"field":"i","type":"quantitative"},"y":{"field":"o","type":"quantitative"},"y2":{"field":"c"},
 "fill":{"condition":{"test":"datum.c >= datum.o","value":"#23801f"},"value":"#e3161b"}}},
{"data":{"name":"arrow"},"mark":{"type":"rule","color":"#2e5f9f","strokeWidth":4.5},
 "encoding":{"x":{"field":"i0","type":"quantitative"},"y":{"field":"p0","type":"quantitative"},"x2":{"field":"i1"},"y2":{"field":"p1"}}},
{"data":{"name":"arrow"},"mark":{"type":"point","shape":"M0,-1L0.8,0.6L-0.8,0.6Z","filled":true,"color":"#2e5f9f","size":480,"angle":39,"opacity":1},
 "encoding":{"x":{"field":"i1","type":"quantitative"},"y":{"field":"p1","type":"quantitative"}}},
{"data":{"name":"levels"},"transform":[{"filter":"datum.kind != 'support'"}],"mark":{"type":"point","shape":"M0,0L0.84,-1L9.5,-1L9.5,1L0.84,1Z","filled":true,"size":256,"opacity":1,"strokeWidth":0},
 "encoding":{"x":{"datum":170.1},"y":{"field":"price","type":"quantitative"},
 "fill":{"field":"kind","type":"nominal","scale":{"domain":["target","last","pivot"],"range":["#4a9e00","#333333","#1a5cff"]},"legend":null}}},
{"data":{"name":"levels"},"mark":{"type":"text","align":"left","baseline":"middle","dx":9,"fontSize":12},
 "encoding":{"x":{"datum":170.1},"y":{"field":"price","type":"quantitative"},"text":{"field":"label"},
 "color":{"condition":{"test":"datum.kind == 'support'","value":"#ff2020"},"value":"#ffffff"}}},
{"data":{"values":[{"tf":"30 MIN"}]},"mark":{"type":"point","opacity":0},
 "encoding":{"shape":{"field":"tf","type":"nominal","legend":{"legendX":71,"legendY":-89,"fillColor":"#e6e9ef","padding":5,"symbolSize":196,"symbolOpacity":0,"symbolStrokeWidth":0,"labelOffset":-13,"labelFontSize":12,"labelColor":"#333333"}}}}
],
"resolve":{"scale":{"color":"independent"}}
},
{
"width":844,"height":60,
"layer":[
{"data":{"name":"rsi"},"mark":{"type":"line","strokeWidth":1.1},
 "encoding":{"x":{"field":"i","type":"quantitative","scale":{"domain":[-0.75,170.05],"nice":false,"zero":false},"axis":null},
 "y":{"field":"v","type":"quantitative","scale":{"domain":[24.44,91.11],"nice":false,"zero":false},
 "axis":{"orient":"right","values":[30,50,70],"grid":true,"gridDash":[1,3],"gridColor":"#b8b8b8","domain":false,"ticks":false,"labelPadding":10,"labelColor":"#888888","labelFontSize":11,"title":null}},
 "color":{"field":"s","type":"nominal","scale":{"domain":["RSI","9MA"],"range":["#6b8fe8","#f02a2a"]},"legend":{"legendX":0,"legendY":-22}}}},
{"data":{"name":"last"},"transform":[{"filter":"datum.panel == 'rsi'"}],"mark":{"type":"rule","color":"#7a9ae8","strokeWidth":1.2,"strokeDash":[1.5,2.5]},
 "encoding":{"x":{"datum":149.3},"x2":{"datum":169.4},"y":{"field":"v","type":"quantitative"}}},
{"data":{"name":"last"},"transform":[{"filter":"datum.panel == 'rsi'"}],"mark":{"type":"point","shape":"M0,-1L6.5,-1L6.5,1L0,1Z","filled":true,"color":"#ffffff","size":196,"opacity":1,"xOffset":7},
 "encoding":{"x":{"datum":170.1},"y":{"field":"v","type":"quantitative"}}},
{"data":{"name":"last"},"transform":[{"filter":"datum.panel == 'rsi'"}],"mark":{"type":"text","align":"left","baseline":"middle","dx":9,"fontSize":12,"color":"#6b8fe8"},
 "encoding":{"x":{"datum":170.1},"y":{"field":"v","type":"quantitative"},"text":{"field":"label"}}}
]
},
{
"width":844,"height":68,
"layer":[
{"data":{"name":"macd"},"mark":{"type":"line","strokeWidth":1.1},
 "encoding":{"x":{"field":"i","type":"quantitative","scale":{"domain":[-0.75,170.05],"nice":false,"zero":false},
 "axis":{"values":[38.1,86.1,134.1,150.2,164.2],"labelExpr":"datum.value < 60 ? 'Aug 25' : datum.value < 110 ? 'Aug 26' : datum.value < 142 ? 'Aug 27' : datum.value < 157 ? 'Aug 28' : 'Sep 11'","ticks":false,"grid":false,"domain":true,"domainColor":"#b0b0b0","domainWidth":2,"labelColor":"#666666","labelFontSize":11,"labelPadding":6,"labelFlush":false,"title":null}},
 "y":{"field":"v","type":"quantitative","scale":{"domain":[-2.846,2.385],"nice":false,"zero":false},
 "axis":{"orient":"right","values":[-1,1],"labelExpr":"'0'","grid":false,"domain":false,"ticks":false,"labelPadding":10,"labelColor":"#888888","labelFontSize":11,"title":null}},
 "color":{"field":"s","type":"nominal","scale":{"domain":["MACD","MACD Signal"],"range":["#6b8fe8","#5aab2a"]},"legend":{"legendX":0,"legendY":-16}}}},
{"data":{"name":"axisends"},"mark":{"type":"rule","color":"#b0b0b0","strokeWidth":1.5},
 "encoding":{"x":{"field":"e","type":"quantitative"},"y":{"datum":-2.846},"y2":{"datum":-3.2}}},
{"data":{"name":"last"},"transform":[{"filter":"datum.panel == 'macd'"}],"mark":{"type":"rule","color":"#7a9ae8","strokeWidth":1.2,"strokeDash":[1.5,2.5]},
 "encoding":{"x":{"datum":149.3},"x2":{"datum":169.4},"y":{"field":"v","type":"quantitative"}}},
{"data":{"name":"last"},"transform":[{"filter":"datum.panel == 'macd'"}],"mark":{"type":"point","shape":"M0,-1L6.5,-1L6.5,1L0,1Z","filled":true,"color":"#ffffff","size":196,"opacity":1,"xOffset":7},
 "encoding":{"x":{"datum":170.1},"y":{"field":"v","type":"quantitative"}}},
{"data":{"name":"last"},"transform":[{"filter":"datum.panel == 'macd'"}],"mark":{"type":"text","align":"left","baseline":"middle","dx":9,"fontSize":12,"color":"#6b8fe8"},
 "encoding":{"x":{"datum":170.1},"y":{"field":"v","type":"quantitative"},"text":{"field":"label"}}}
]
}
]
}
